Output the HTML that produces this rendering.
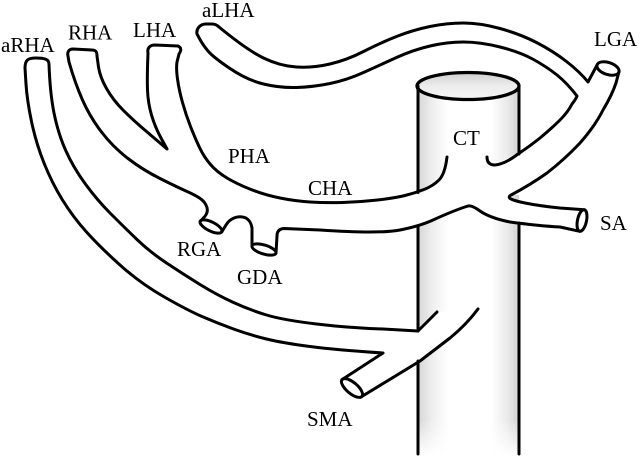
<!DOCTYPE html>
<html><head><meta charset="utf-8">
<style>
html,body{margin:0;padding:0;background:#fff;}
svg{display:block;}
text{font-family:"Liberation Serif",serif;font-size:21px;fill:#000;}
</style></head>
<body>
<svg width="640" height="462" viewBox="0 0 640 462" xmlns="http://www.w3.org/2000/svg">
<defs>
<linearGradient id="ao" x1="418" y1="0" x2="519" y2="0" gradientUnits="userSpaceOnUse">
<stop offset="0" stop-color="#d6d6d6"/>
<stop offset="0.14" stop-color="#eeeeee"/>
<stop offset="0.3" stop-color="#ffffff"/>
<stop offset="0.72" stop-color="#ffffff"/>
<stop offset="0.88" stop-color="#ebebeb"/>
<stop offset="1" stop-color="#d2d2d2"/>
</linearGradient>
<linearGradient id="aofade" x1="0" y1="420" x2="0" y2="456" gradientUnits="userSpaceOnUse">
<stop offset="0" stop-color="#fff" stop-opacity="0"/>
<stop offset="1" stop-color="#fff" stop-opacity="1"/>
</linearGradient>
<linearGradient id="top" x1="0" y1="72" x2="0" y2="100" gradientUnits="userSpaceOnUse">
<stop offset="0" stop-color="#cfcfcf"/>
<stop offset="0.5" stop-color="#ececec"/>
<stop offset="1" stop-color="#f7f7f7"/>
</linearGradient>
</defs>

<rect x="418" y="86" width="101" height="370" fill="url(#ao)"/>
<rect x="416" y="420" width="106" height="42" fill="url(#aofade)"/>

<path d="M405,196 Q433,186 445,174 L447,157 L487,157 Q487,165 495,165 L530,146 L530,195 L512,195 Q507,197 511,199 L530,204 L530,226 L510,222 Q490,218 480,211 Q472,205 468,206 Q455,210 433,220 L405,230 Z" fill="#fff"/>
<path d="M410,331 L418,331 L437,312 L478,309 Q466,325 450,338 L420,361 L410,361 Z" fill="#fff"/>

<g fill="none" stroke="#000" stroke-width="3" stroke-linecap="round" stroke-linejoin="round">
<ellipse cx="468" cy="86" rx="51" ry="13.5" fill="url(#top)" stroke-width="3.3"/>
<path d="M418,86 L418,192.5"/>
<path d="M418,226 L418,331"/>
<path d="M418,361 L418,454"/>
<path d="M519,86 L519,154"/>
<path d="M519,223 L519,454"/>

<path d="M342,379.6 L383,353 Q337,350 310,346.5 Q283,343 266.5,339 Q250,335 233.5,329 Q217,323 202,316.5 Q187,310 163.5,296.5 Q140,283 120,265 Q100,247 86.5,232 Q73,217 62.5,200 Q52,183 44,163 Q36,143 31.5,121.5 Q27,100 26,84 L25,68 C25,60 28,58 36,58 C44,58 49,59 49,64 Q50,93 54,113 Q58,133 65.5,150 Q73,167 85,183.5 Q97,200 111,214 Q125,228 137.5,240 Q150,252 166.5,263 Q183,274 200,284.5 Q217,295 233.5,302.5 Q250,310 266.5,315 Q283,320 316.5,324 Q350,328 383,329 L418,331 L437,312"/>
<path d="M478,309 Q466,325 450,338 L420,361 L362,396.4"/>
<ellipse cx="352" cy="388" rx="13" ry="5.5" transform="rotate(40 352 388)"/>

<path d="M447,157 Q445,174 439,180 Q433,186 424,189.5 Q415,193 405,195.5 Q395,198 377.5,200 Q360,202 342.5,202.5 Q325,203 310,202 Q295,201 280,198 Q265,195 251,189.5 Q237,184 227,178 Q217,172 210.5,164.5 Q204,157 199.5,147.5 Q195,138 190.5,126.5 Q186,115 182.5,102.5 Q179,90 177.5,79 Q176,68 177,62 L179,54 C181,51 182,48 178,46 L155,45 C150,45 147,48 148,53 Q147,77 147.5,90 Q148,103 151.5,115 Q155,127 161,138 L167,149 L160,143 Q153,137 143,128.5 Q133,120 123,110 Q113,100 106.5,88.5 Q100,77 98.5,67 L97,56 C97,52 96,50 92,50 L73,49 C69,49 67,52 68,56 L69,62 Q75,83 82.5,100 Q90,117 101.5,132 Q113,147 128,158.5 Q143,170 160,178.5 Q177,187 186,191 Q195,195 199.5,198 Q204,201 206,205 Q208,209 207,212.5 Q206,216 200.2,221.2"/>
<ellipse cx="211" cy="226.5" rx="12" ry="4.5" transform="rotate(26 211 226.5)"/>
<path d="M221.8,231.8 L226,225 Q229,220 234,218 Q240,215.5 246,218 Q251,221 252,228 L252,245.8"/>
<ellipse cx="264" cy="249.5" rx="12.5" ry="4.5" transform="rotate(17 264 249.5)"/>
<path d="M276,253 L277,236 Q277,229 284,228.5 L320,230 Q350,232 370,232 Q390,232 400,230 Q420,226 433,220 Q455,210 468,206 Q472,205 480,211 Q490,218 510,222 Q540,226 560,227 L579.7,231.3"/>
<ellipse cx="582" cy="220.5" rx="4.5" ry="11" transform="rotate(12 582 220.5)"/>
<path d="M584.3,209.7 L560,208 Q540,206 525,203 Q515,201 511,199 Q507,197 512,194.5 Q530,185 547,173 Q565,159 580,143 Q595,126 603,110 Q612,95 616,83 L618.9,72"/>
<ellipse cx="608" cy="68.5" rx="11.5" ry="6" transform="rotate(18 608 68.5)"/>
<path d="M487,157 Q487,165 495,165 Q505,164 518,154 Q530,146 540,138 Q552,128 560,120 Q568,112 572,104 Q576,99 577,96 Q567,83 557,75 Q547,67 533.5,59.5 Q520,52 500,47 Q480,42 463.5,42 Q447,42 430,46 Q413,50 396.5,57.5 Q380,65 363.5,72.5 Q347,80 330,83.5 Q313,87 296.5,87.5 Q280,88 263.5,84 Q247,80 230,68.5 Q213,57 208,51 Q203,45 200,39.5 L197,34 C196,29 200,24 206,24 L212,24 C215,24 217,25 219,27 Q247,50 263.5,58 Q280,66 296.5,67 Q313,68 330,64 Q347,60 363.5,51.5 Q380,43 396.5,36.5 Q413,30 430,26.5 Q447,23 463.5,23 Q480,23 500,28.5 Q520,34 536.5,42.5 Q553,51 566.5,61.5 Q580,72 588,82 L597.1,65"/>
</g>

<text x="1" y="52">aRHA</text>
<text x="68" y="39.5">RHA</text>
<text x="133" y="37">LHA</text>
<text x="202" y="17">aLHA</text>
<text x="594" y="46">LGA</text>
<text x="228" y="163">PHA</text>
<text x="308" y="195">CHA</text>
<text x="453" y="145">CT</text>
<text x="600" y="230">SA</text>
<text x="177" y="256">RGA</text>
<text x="237" y="284">GDA</text>
<text x="307" y="426">SMA</text>
</svg>
</body></html>
